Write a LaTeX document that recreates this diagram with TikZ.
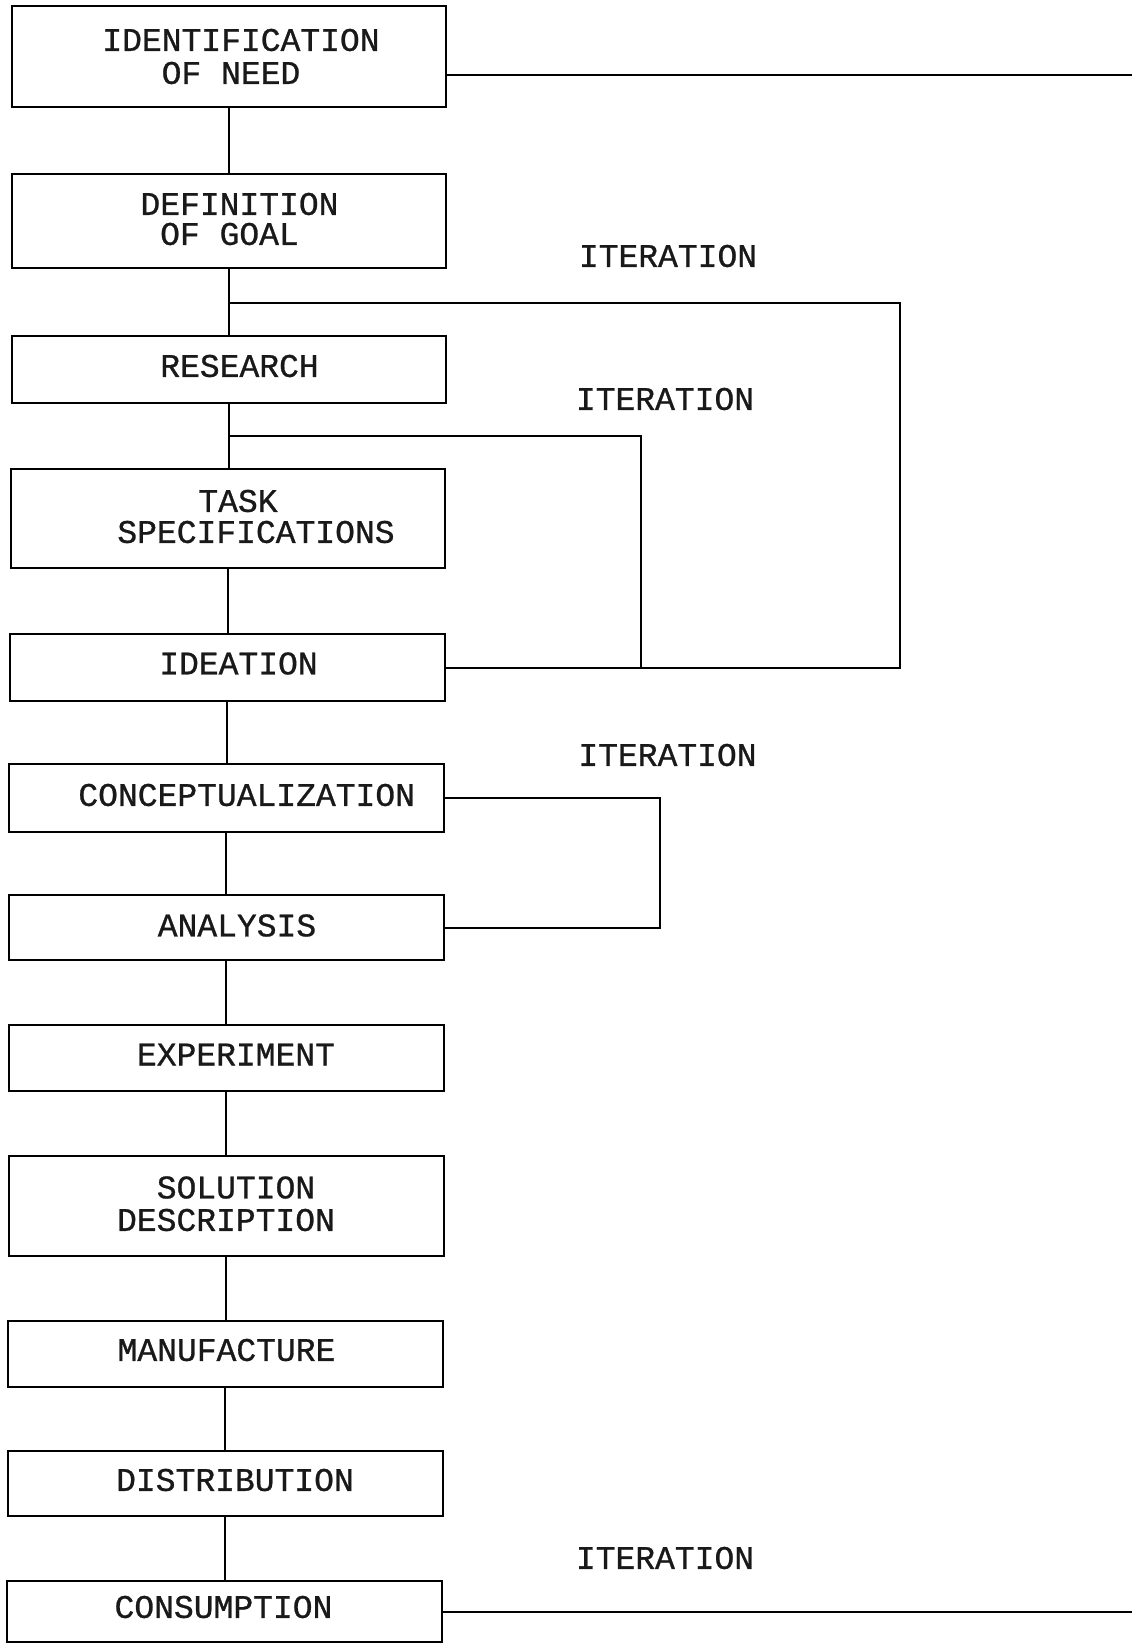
\documentclass[tikz,border=0pt]{standalone}
\usepackage{fontspec}
\newfontfamily\lblfont{Liberation Mono}[FakeBold=0.8]
\tikzset{
  box/.style={draw, line width=2pt, inner sep=0pt, rectangle},
  lbl/.style={inner sep=0pt, font=\lblfont\fontsize{33}{33}\selectfont, text=black!90},
  link/.style={line width=2pt},
}
\begin{document}
\begin{tikzpicture}[x=1pt,y=-1pt]
\useasboundingbox[fill=white] (0,0) rectangle (1132,1643);
% boxes
\node[box, minimum width=434.5pt, minimum height=101.5pt] (n1) at (228.75,56.75) {};
\node[box, minimum width=434.5pt, minimum height=93.5pt] (n2) at (228.75,220.75) {};
\node[box, minimum width=434pt, minimum height=67pt] (n3) at (228.5,369.5) {};
\node[box, minimum width=434pt, minimum height=98.5pt] (n4) at (227.5,518.25) {};
\node[box, minimum width=435pt, minimum height=67pt] (n5) at (227,667.5) {};
\node[box, minimum width=435pt, minimum height=67.5pt] (n6) at (226,797.75) {};
\node[box, minimum width=435pt, minimum height=65pt] (n7) at (226,927.5) {};
\node[box, minimum width=435pt, minimum height=66pt] (n8) at (226,1058) {};
\node[box, minimum width=435pt, minimum height=99.5pt] (n9) at (226,1205.75) {};
\node[box, minimum width=435pt, minimum height=66pt] (n10) at (225,1353.5) {};
\node[box, minimum width=435pt, minimum height=65pt] (n11) at (225,1483) {};
\node[box, minimum width=435pt, minimum height=61pt] (n12) at (224.5,1611.5) {};
% texts
\node[lbl] (t1a) at (241,40) {IDENTIFICATION};
\node[lbl] (t1b) at (231,73) {OF NEED};
\node[lbl] (t2a) at (239.5,204) {DEFINITION};
\node[lbl] (t2b) at (229.5,234) {OF GOAL};
\node[lbl] (t3) at (239.5,366) {RESEARCH};
\node[lbl] (t4a) at (238,501) {TASK};
\node[lbl] (t4b) at (256,532) {SPECIFICATIONS};
\node[lbl] (t5) at (238.5,663.5) {IDEATION};
\node[lbl] (t6) at (246.7,795) {CONCEPTUALIZATION};
\node[lbl] (t7) at (237,925.5) {ANALYSIS};
\node[lbl] (t8) at (236,1054.5) {EXPERIMENT};
\node[lbl] (t9a) at (236,1187.5) {SOLUTION};
\node[lbl] (t9b) at (226,1220) {DESCRIPTION};
\node[lbl] (t10) at (226.5,1350) {MANUFACTURE};
\node[lbl] (t11) at (235,1480) {DISTRIBUTION};
\node[lbl] (t12) at (223.5,1607) {CONSUMPTION};
\node[lbl] (it1) at (668,256) {ITERATION};
\node[lbl] (it2) at (665,399) {ITERATION};
\node[lbl] (it3) at (667.5,755) {ITERATION};
\node[lbl] (it4) at (665,1558) {ITERATION};
% main chain
\foreach \a/\b in {n1/n2,n2/n3,n3/n4,n4/n5,n5/n6,n6/n7,n7/n8,n8/n9,n9/n10,n10/n11,n11/n12}
  \draw[link] (\a.south) -- (\a.south |- \b.north);
% feedback lines
\coordinate (r1) at (1132,75);
\draw[link] (n1.east |- r1) -- (r1);
\coordinate (r2) at (1132,1611.5);
\draw[link] (n12.east) -- (r2);
% iteration loops
\coordinate (j1) at (228.5,303);
\coordinate (k1) at (900,303);
\draw[link] (j1) -- (k1) |- (n5.east);
\coordinate (j2) at (228,436);
\coordinate (k2) at (640.5,436);
\draw[link] (j2) -- (k2) -- (k2 |- n5.east);
\coordinate (k3) at (660,797.75);
\draw[link] (n6.east) -- (k3) |- (n7.east);
\end{tikzpicture}
\end{document}
